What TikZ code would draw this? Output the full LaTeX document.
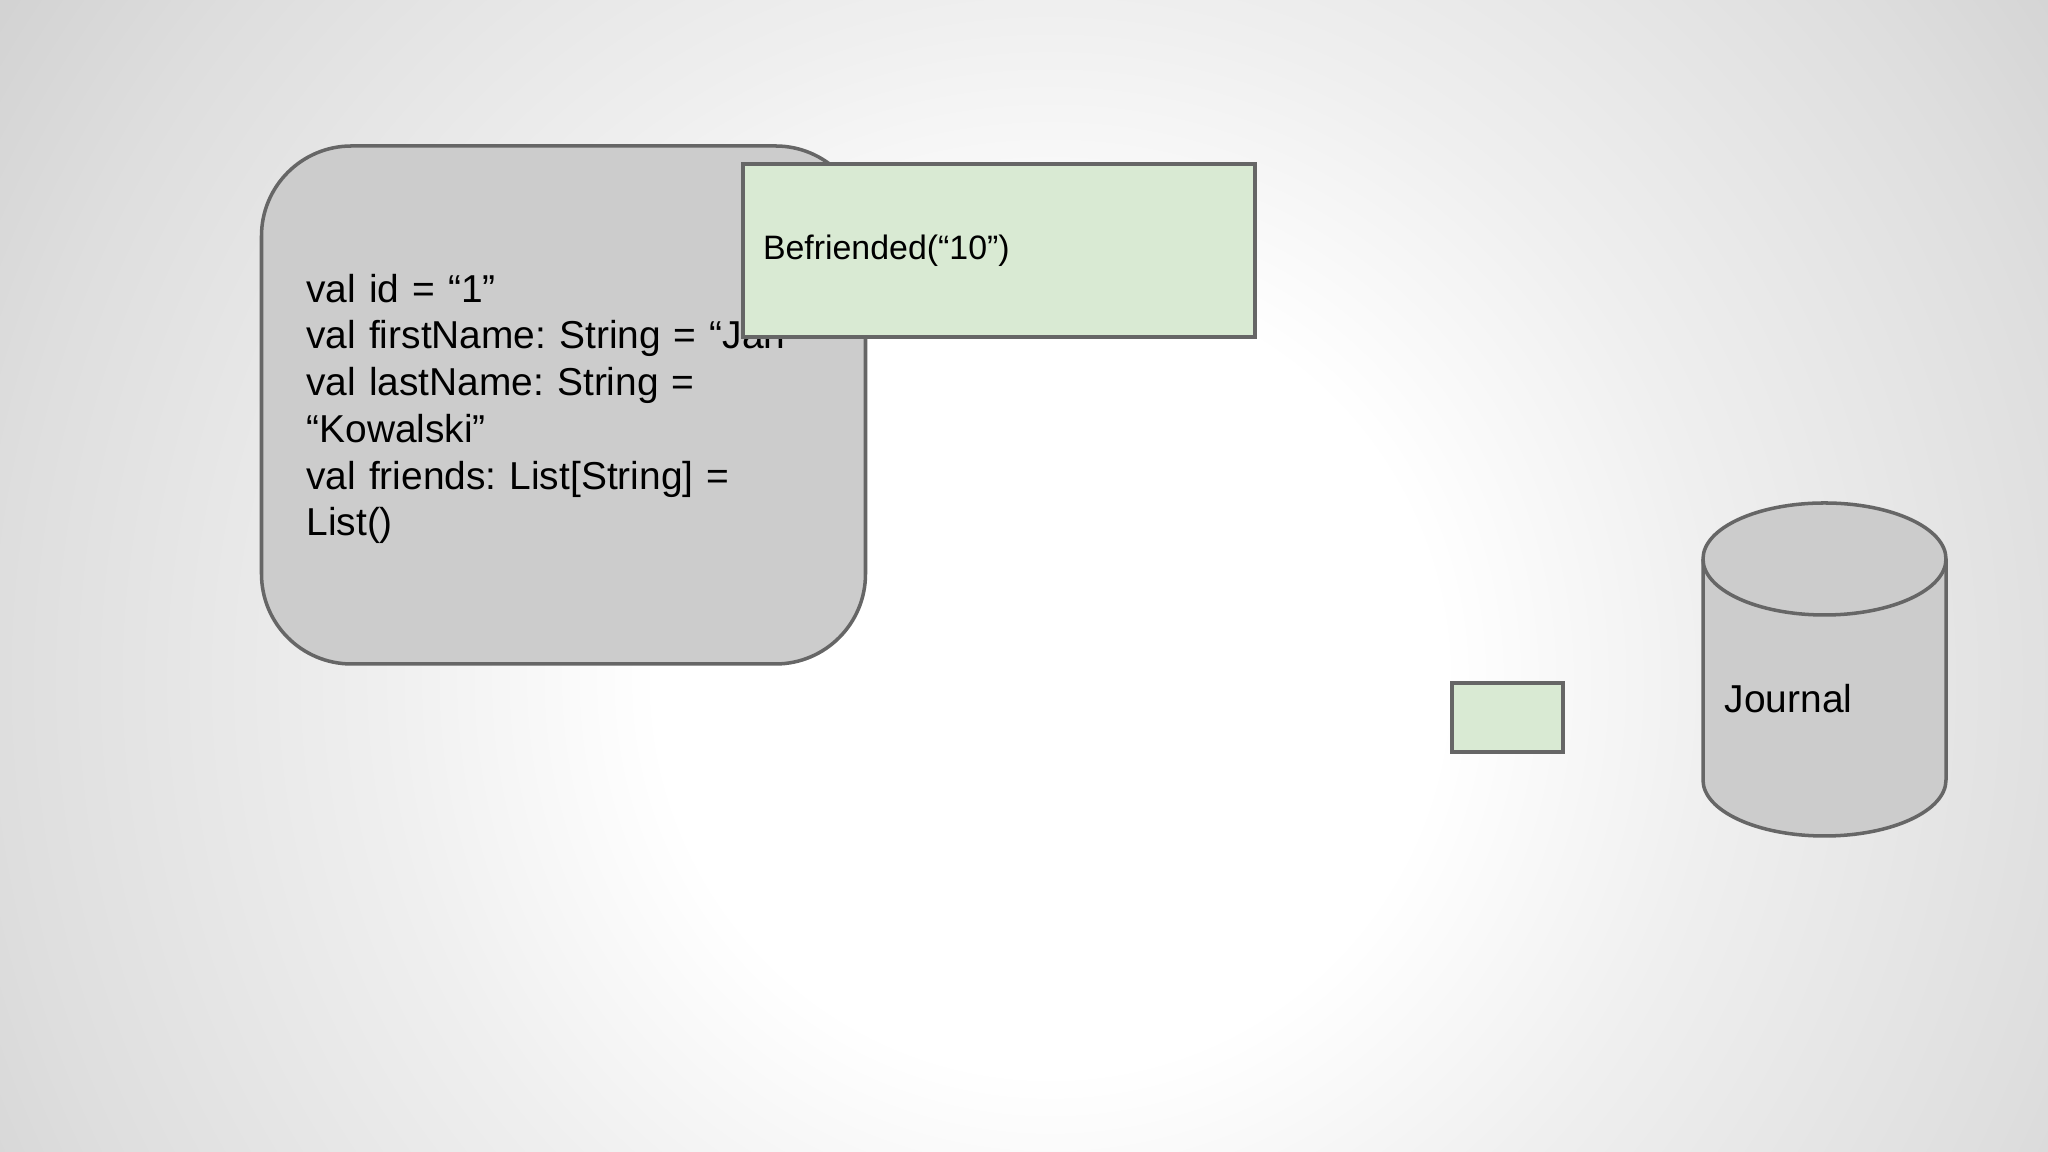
\documentclass[tikz,border=0pt]{standalone}
\usepackage{fontspec}
\setmainfont{Liberation Sans}
\usepackage{xcolor}
\usepackage{tikz}
\usetikzlibrary{shapes}
\frenchspacing

\definecolor{bgA}{HTML}{EFEFEF}
\definecolor{bgB}{HTML}{DEDEDE}
\definecolor{bgC}{HTML}{D2D2D2}
\definecolor{boxgray}{HTML}{CCCCCC}
\definecolor{msggreen}{HTML}{D9EAD3}
\definecolor{rim}{HTML}{666666}
\pgfdeclareradialshading{slidebg}{\pgfpoint{0bp}{0bp}}{color(0bp)=(white); color(7bp)=(white); color(12bp)=(bgA); color(18.75bp)=(bgB); color(22.5bp)=(bgC); color(25bp)=(bgC); color(50bp)=(bgC)}

\begin{document}
\begin{tikzpicture}[
	actor/.style={draw=rim,line width=1pt,fill=boxgray,rounded corners=0.9cm,minimum width=6.04cm,minimum height=5.18cm},
	fields/.style={text width=5.14cm,inner sep=0pt,align=left,font=\fontsize{11.07pt}{13.3pt}\selectfont},
	msg/.style={draw=rim,line width=1pt,fill=msggreen,align=left,inner xsep=0.2cm}]
		\useasboundingbox (0,0) rectangle (20.48,11.52);
		\begin{scope}
		\clip (0,0) rectangle (20.48,11.52);
		\shade[shading=slidebg] (-3.5,-9.28) rectangle (24.5,18.72);
		\end{scope}
		%
		\node[actor] (state) at (5.635,7.47) {};
		\node[fields] (statetext) at (5.635,7.43) {val id = “1”\\val firstName: String = “Jan”\\val lastName: String =\\“Kowalski”\\val friends: List[String] =\\List()};
		\node[msg,minimum width=5.12cm,minimum height=1.73cm,text width=4.72cm,font=\fontsize{9.64pt}{11.6pt}\selectfont] (befriended) at (9.99,9.015) {Befriended(“10”)};
		\node[msg,minimum width=1.11cm,minimum height=0.69cm] (event) at (15.075,4.345) {};
		%
		\draw[rim,line width=1pt,fill=boxgray] (17.03,5.93) -- (17.03,3.72) arc (180:360:1.215 and 0.56) -- (19.46,5.93) arc (0:180:1.215 and 0.56) -- cycle;
		\draw[rim,line width=1pt] (17.03,5.93) arc (180:360:1.215 and 0.56);
		\node[anchor=west,font=\fontsize{11.07pt}{13.3pt}\selectfont,inner sep=0pt] (journal) at (17.24,4.53) {Journal};
\end{tikzpicture}
\end{document}
